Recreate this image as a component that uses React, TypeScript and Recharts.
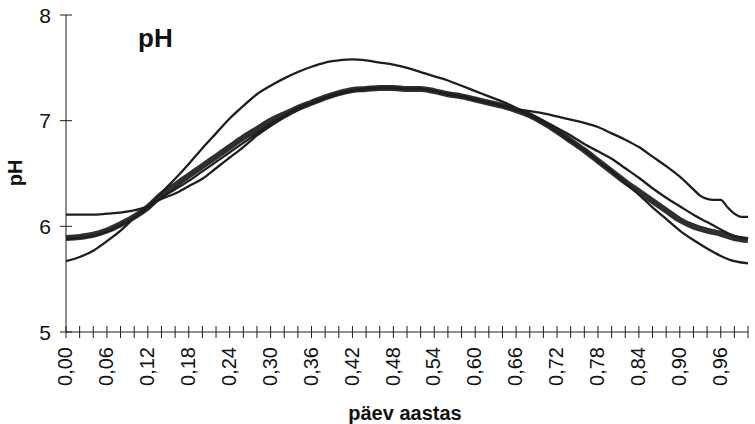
import { LineChart, Line, XAxis, YAxis } from "recharts";

// päev aastas (fraction of year)
const days = [
  0, 0.02, 0.04, 0.06, 0.08, 0.1, 0.12, 0.14, 0.16, 0.18, 0.2, 0.22, 0.24,
  0.26, 0.28, 0.3, 0.32, 0.34, 0.36, 0.38, 0.4, 0.42, 0.44, 0.46, 0.48, 0.5,
  0.52, 0.54, 0.56, 0.58, 0.6, 0.62, 0.64, 0.66, 0.68, 0.7, 0.72, 0.74, 0.76,
  0.78, 0.8, 0.82, 0.84, 0.86, 0.88, 0.9, 0.92, 0.94, 0.96, 0.98, 1,
];

// widest curve
const phA = [
  5.67, 5.71, 5.77, 5.86, 5.96, 6.08, 6.19, 6.32, 6.45, 6.59, 6.74, 6.88, 7.02,
  7.14, 7.25, 7.33, 7.4, 7.46, 7.51, 7.55, 7.57, 7.58, 7.57, 7.55, 7.53, 7.5,
  7.46, 7.42, 7.38, 7.33, 7.28, 7.23, 7.18, 7.12, 7.05, 6.98, 6.9, 6.81, 6.72,
  6.62, 6.52, 6.41, 6.3, 6.18, 6.07, 5.96, 5.87, 5.79, 5.72, 5.67, 5.65,
];

// thick curve
const phB = [
  5.89, 5.9, 5.92, 5.96, 6.02, 6.09, 6.18, 6.3, 6.39, 6.48, 6.57, 6.66, 6.75,
  6.84, 6.92, 7.0, 7.06, 7.12, 7.17, 7.22, 7.26, 7.29, 7.3, 7.31, 7.31, 7.3,
  7.3, 7.28, 7.25, 7.23, 7.2, 7.17, 7.14, 7.1, 7.05, 6.98, 6.9, 6.81, 6.72,
  6.62, 6.52, 6.42, 6.33, 6.24, 6.15, 6.06, 6.0, 5.96, 5.93, 5.89, 5.87,
];

const phD = [
  5.88, 5.89, 5.91, 5.95, 6.01, 6.08, 6.17, 6.27, 6.35, 6.43, 6.52, 6.61, 6.7,
  6.79, 6.88, 6.97, 7.05, 7.12, 7.17, 7.22, 7.26, 7.29, 7.3, 7.31, 7.31, 7.3,
  7.3, 7.28, 7.25, 7.23, 7.2, 7.17, 7.14, 7.1, 7.06, 7.0, 6.93, 6.86, 6.78,
  6.71, 6.64, 6.55, 6.46, 6.36, 6.27, 6.19, 6.11, 6.04, 5.97, 5.91, 5.88,
];

// flattest curve, has a small wiggle near the end
const daysC = [
  0, 0.02, 0.04, 0.06, 0.08, 0.1, 0.12, 0.14, 0.16, 0.18, 0.2, 0.22, 0.24,
  0.26, 0.28, 0.3, 0.32, 0.34, 0.36, 0.38, 0.4, 0.42, 0.44, 0.46, 0.48, 0.5,
  0.52, 0.54, 0.56, 0.58, 0.6, 0.62, 0.64, 0.66, 0.68, 0.7, 0.72, 0.74, 0.76,
  0.78, 0.8, 0.82, 0.84, 0.86, 0.88, 0.9, 0.92, 0.93, 0.94, 0.95, 0.96, 0.97,
  0.98, 0.99, 1,
];
const phC = [
  6.11, 6.11, 6.11, 6.12, 6.13, 6.15, 6.19, 6.26, 6.31, 6.38, 6.45, 6.55, 6.65,
  6.75, 6.86, 6.95, 7.03, 7.1, 7.16, 7.21, 7.25, 7.28, 7.3, 7.31, 7.31, 7.3,
  7.3, 7.28, 7.25, 7.23, 7.2, 7.17, 7.14, 7.11, 7.09, 7.07, 7.04, 7.01, 6.98,
  6.94, 6.88, 6.82, 6.75, 6.66, 6.57, 6.47, 6.35, 6.29, 6.26, 6.25, 6.25, 6.18,
  6.12, 6.09, 6.09,
];

const xTicks = days;
const yTicks = [5, 6, 7, 8];

const toRows = (xs: number[], ys: number[]) =>
  xs.map((d, i) => ({ day: d, ph: ys[i] }));

const font = '"Liberation Sans", Arial, sans-serif';
const ink = "#1e1e1e";

const XTick = ({ x, y, payload }: any) => {
  const v = payload.value as number;
  const showLabel = Math.round(v * 100) % 6 === 0 && v < 0.99;
  return (
    <g>
      <line x1={x} x2={x} y1={y - 6} y2={y + 6} stroke={ink} strokeWidth={1} />
      {showLabel && (
        <text
          x={x - 1}
          y={y + 15}
          transform={`rotate(-90, ${x - 1}, ${y + 15})`}
          textAnchor="end"
          dy="0.36em"
          fontSize={20}
          fontFamily={font}
          fill="#111"
        >
          {v.toFixed(2).replace(".", ",")}
        </text>
      )}
    </g>
  );
};

const YTick = ({ x, y, payload }: any) => (
  <g>
    <line x1={x - 6} x2={x + 6} y1={y} y2={y} stroke={ink} strokeWidth={1} />
    <text
      x={x - 15}
      y={y}
      dy="0.36em"
      textAnchor="end"
      fontSize={21}
      fontFamily={font}
      fill="#111"
    >
      {payload.value}
    </text>
  </g>
);

export default function App() {
  return (
    <div
      style={{
        position: "absolute",
        left: 0,
        top: 0,
        width: 755,
        height: 424,
        background: "#fff",
        fontFamily: font,
      }}
    >
      <LineChart
        width={755}
        height={424}
        margin={{ top: 15, right: 7, left: 26, bottom: 32 }}
      >
        <XAxis
          type="number"
          dataKey="day"
          domain={[0, 1]}
          ticks={xTicks}
          interval={0}
          tickSize={0}
          tickMargin={0}
          tickLine={false}
          height={60}
          axisLine={{ stroke: ink }}
          tick={(p: any) => <XTick {...p} />}
          allowDuplicatedCategory={false}
        />
        <YAxis
          type="number"
          domain={[5, 8]}
          ticks={yTicks}
          interval={0}
          tickSize={0}
          tickMargin={0}
          tickLine={false}
          width={40}
          axisLine={{ stroke: ink }}
          tick={(p: any) => <YTick {...p} />}
        />
        <Line
          data={toRows(days, phB)}
          dataKey="ph"
          type="monotone"
          stroke="#2f2f2f"
          strokeWidth={6}
          dot={false}
          isAnimationActive={false}
        />
        <Line
          data={toRows(days, phD)}
          dataKey="ph"
          type="monotone"
          stroke={ink}
          strokeWidth={2.3}
          dot={false}
          isAnimationActive={false}
        />
        <Line
          data={toRows(daysC, phC)}
          dataKey="ph"
          type="monotone"
          stroke={ink}
          strokeWidth={2.3}
          dot={false}
          isAnimationActive={false}
        />
        <Line
          data={toRows(days, phA)}
          dataKey="ph"
          type="monotone"
          stroke={ink}
          strokeWidth={2.3}
          dot={false}
          isAnimationActive={false}
        />
      </LineChart>
      <div
        style={{
          position: "absolute",
          left: 138,
          top: 25,
          fontSize: 26,
          fontWeight: "bold",
          lineHeight: 1,
          color: "#111",
        }}
      >
        pH
      </div>
      <div
        style={{
          position: "absolute",
          left: 15,
          top: 173,
          transform: "translate(-50%, -50%) rotate(-90deg)",
          fontSize: 20,
          fontWeight: "bold",
          lineHeight: 1,
          color: "#111",
        }}
      >
        pH
      </div>
      <div
        style={{
          position: "absolute",
          left: 305,
          width: 200,
          top: 403,
          textAlign: "center",
          fontSize: 20,
          fontWeight: "bold",
          lineHeight: 1,
          color: "#111",
        }}
      >
        päev aastas
      </div>
    </div>
  );
}
